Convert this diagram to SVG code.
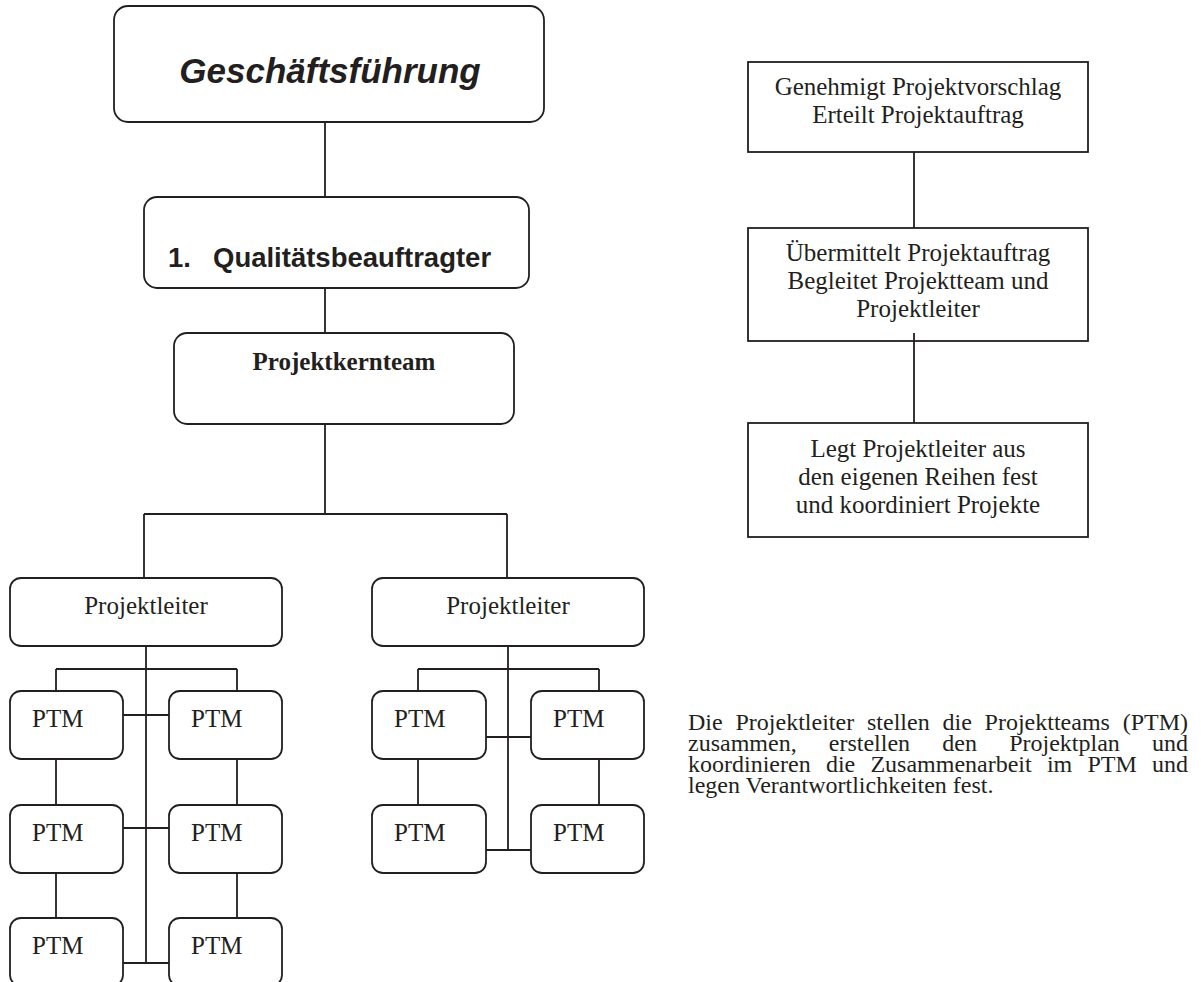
<svg xmlns="http://www.w3.org/2000/svg" width="1201" height="982" viewBox="0 0 1201 982">
<style>
.box{fill:#fff;stroke:#231f20;stroke-width:1.8}
.ln{fill:none;stroke:#231f20;stroke-width:1.8}
.t{font-family:"Liberation Serif","Times New Roman",serif;fill:#231f20;font-size:25px}
.c{text-anchor:middle}
.p{font-family:"Liberation Serif","Times New Roman",serif;fill:#231f20;font-size:24px}
</style>
<rect width="1201" height="982" fill="#fff"/>
<g id="connectors">
<path class="ln" d="M325 122V197M325 288V333M325 424V514M144 514H507M144 514V578M507 514V578"/>
<path class="ln" d="M146 646V963M56 669H237M56 669V691M237 669V691M123 715H169M123 828H169M123 963H169M56 759V805M56 873V918M237 759V805M237 873V918"/>
<path class="ln" d="M508 646V850M418 669H599M418 669V691M599 669V691M486 737H531M486 850H531M418 759V805M599 759V805"/>
<path class="ln" d="M914 152V228M914 333V423"/>
</g>
<g id="geschaeftsfuehrung">
<rect class="box" x="114" y="6" width="430" height="116" rx="14"/>
<text x="330" y="83" text-anchor="middle" font-family="'Liberation Sans',Arial,sans-serif" font-weight="bold" font-style="italic" font-size="35" fill="#231f20">Geschäftsführung</text>
</g>
<g id="qualitaetsbeauftragter">
<rect class="box" x="144" y="197" width="385" height="91" rx="13"/>
<text y="267" font-family="'Liberation Sans',Arial,sans-serif" font-weight="bold" font-size="27.5" fill="#231f20"><tspan x="168">1.</tspan><tspan x="213">Qualitätsbeauftragter</tspan></text>
</g>
<g id="projektkernteam">
<rect class="box" x="174" y="333" width="340" height="91" rx="13"/>
<text class="t c" x="344" y="370" font-weight="bold">Projektkernteam</text>
</g>
<g id="pl-left">
<rect class="box" x="10" y="578" width="272" height="68" rx="11"/>
<text class="t c" x="146" y="614">Projektleiter</text>
</g>
<g id="pl-right">
<rect class="box" x="372" y="578" width="272" height="68" rx="11"/>
<text class="t c" x="508" y="614">Projektleiter</text>
</g>
<g id="ptm-l1"><rect class="box" x="10" y="691" width="113" height="68" rx="11"/><text class="t" x="32" y="727">PTM</text></g>
<g id="ptm-l2"><rect class="box" x="169" y="691" width="113" height="68" rx="11"/><text class="t" x="191" y="727">PTM</text></g>
<g id="ptm-l3"><rect class="box" x="10" y="805" width="113" height="68" rx="11"/><text class="t" x="32" y="841">PTM</text></g>
<g id="ptm-l4"><rect class="box" x="169" y="805" width="113" height="68" rx="11"/><text class="t" x="191" y="841">PTM</text></g>
<g id="ptm-l5"><rect class="box" x="10" y="918" width="113" height="68" rx="11"/><text class="t" x="32" y="954">PTM</text></g>
<g id="ptm-l6"><rect class="box" x="169" y="918" width="113" height="68" rx="11"/><text class="t" x="191" y="954">PTM</text></g>
<g id="ptm-r1"><rect class="box" x="372" y="691" width="114" height="68" rx="11"/><text class="t" x="394" y="727">PTM</text></g>
<g id="ptm-r2"><rect class="box" x="531" y="691" width="113" height="68" rx="11"/><text class="t" x="553" y="727">PTM</text></g>
<g id="ptm-r3"><rect class="box" x="372" y="805" width="114" height="68" rx="11"/><text class="t" x="394" y="841">PTM</text></g>
<g id="ptm-r4"><rect class="box" x="531" y="805" width="113" height="68" rx="11"/><text class="t" x="553" y="841">PTM</text></g>
<g id="genehmigt">
<rect class="box" x="748" y="62" width="340" height="90"/>
<text class="t c" x="918" y="95">Genehmigt Projektvorschlag</text>
<text class="t c" x="918" y="123">Erteilt Projektauftrag</text>
</g>
<g id="uebermittelt">
<rect class="box" x="748" y="228" width="340" height="113"/>
<text class="t c" x="918" y="261">Übermittelt Projektauftrag</text>
<text class="t c" x="918" y="289">Begleitet Projektteam und</text>
<text class="t c" x="918" y="317">Projektleiter</text>
</g>
<line class="ln" x1="914" y1="333" x2="914" y2="341"/>
<g id="legt">
<rect class="box" x="748" y="423" width="340" height="114"/>
<text class="t c" x="918" y="457">Legt Projektleiter aus</text>
<text class="t c" x="918" y="485">den eigenen Reihen fest</text>
<text class="t c" x="918" y="513">und koordiniert Projekte</text>
</g>
<g id="beschreibung" class="p">
<text y="730"><tspan x="688">Die</tspan><tspan x="735.5">Projektleiter</tspan><tspan x="867">stellen</tspan><tspan x="942.5">die</tspan><tspan x="984.6">Projektteams</tspan><tspan x="1122.7">(PTM)</tspan></text>
<text y="751"><tspan x="688">zusammen,</tspan><tspan x="828.8">erstellen</tspan><tspan x="942.3">den</tspan><tspan x="1009.2">Projektplan</tspan><tspan x="1152">und</tspan></text>
<text y="772"><tspan x="688">koordinieren</tspan><tspan x="825.9">die</tspan><tspan x="870.4">Zusammenarbeit</tspan><tspan x="1046.9">im</tspan><tspan x="1087.4">PTM</tspan><tspan x="1152">und</tspan></text>
<text y="793" x="688">legen Verantwortlichkeiten fest.</text>
</g>
</svg>
